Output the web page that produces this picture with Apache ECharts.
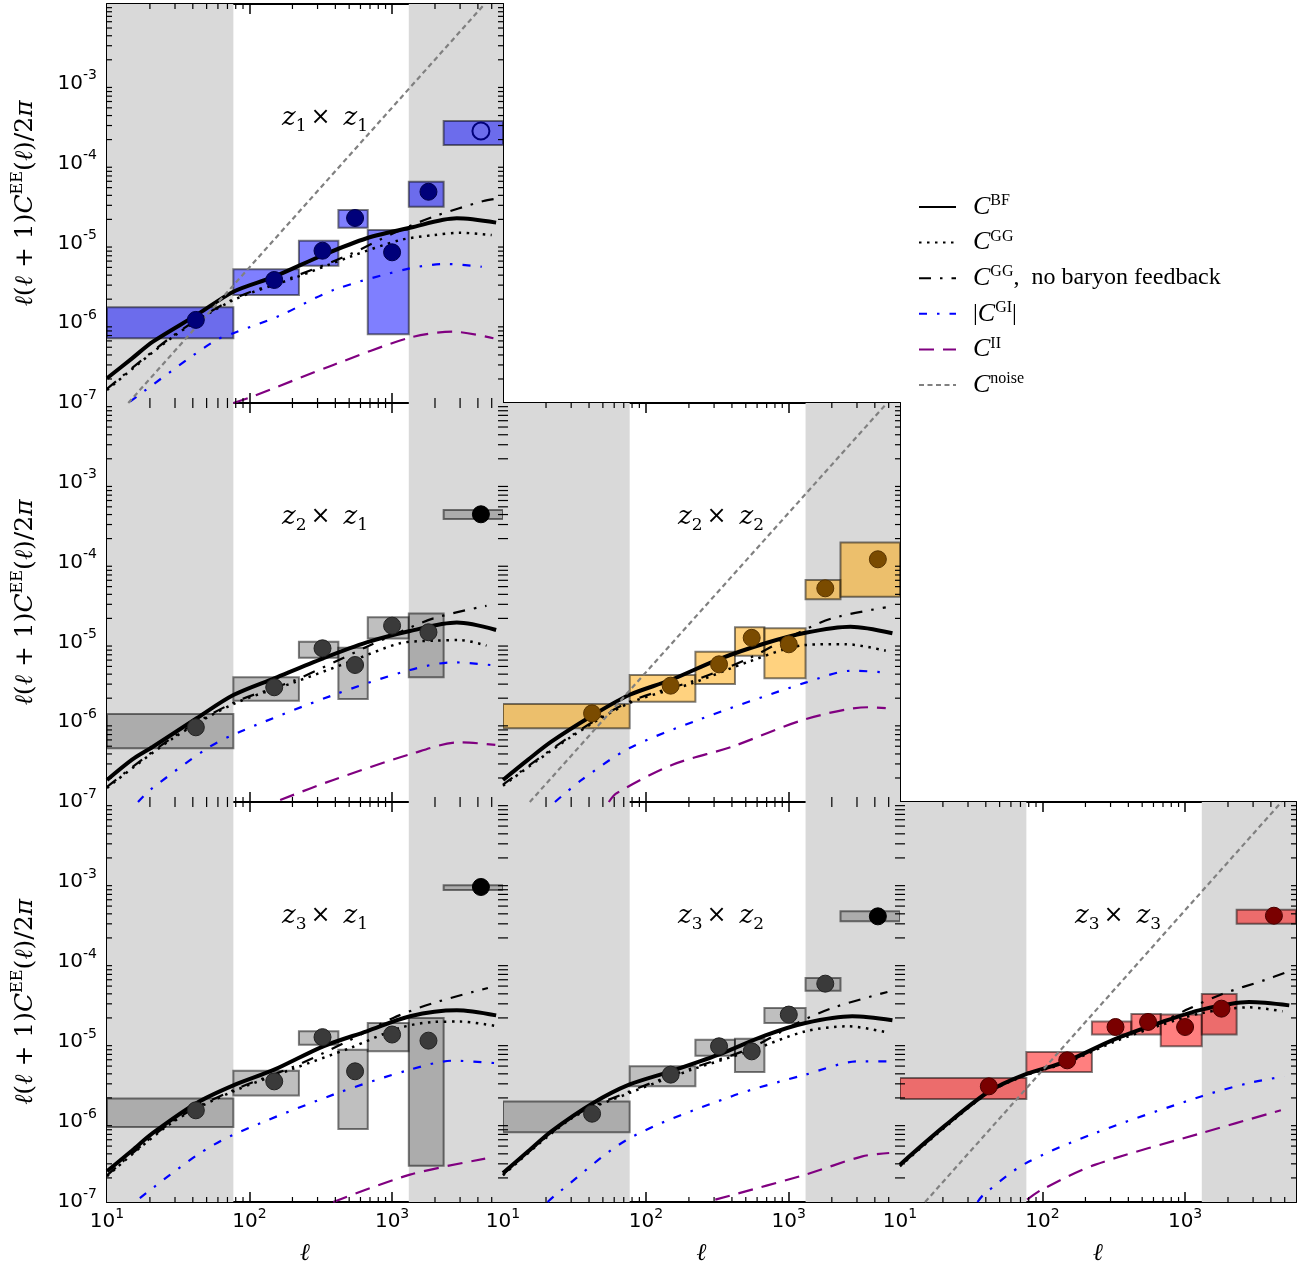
<!DOCTYPE html>
<html><head><meta charset="utf-8">
<script src="https://cdn.jsdelivr.net/npm/echarts@6/dist/echarts.min.js"></script>
<style>html,body{margin:0;padding:0;background:#fff}#c{width:1310px;height:1272px}</style>
</head><body><div id="c"></div>
<script>
// ---------------- data ----------------
const ELL_EDGES = [10, 77, 222, 420, 675, 1310, 2300, 6000];
const ELL_MID = [42, 149, 325, 550, 1000, 1800, 4200];
const MASK_BANDS = [[10, 77], [1310, 6000]];
const X_TICKS = [10, 100, 1000];
const Y_TICKS = [1e-7, 1e-6, 1e-5, 1e-4, 1e-3];
const X_MINOR = [20,30,40,50,60,70,80,90, 200,300,400,500,600,700,800,900, 2000,3000,4000,5000];
const Y_MINOR = [2e-7,3e-7,4e-7,5e-7,6e-7,7e-7,8e-7,9e-7, 2e-6,3e-6,4e-6,5e-6,6e-6,7e-6,8e-6,9e-6,
                 2e-5,3e-5,4e-5,5e-5,6e-5,7e-5,8e-5,9e-5, 2e-4,3e-4,4e-4,5e-4,6e-4,7e-4,8e-4,9e-4,
                 2e-3,3e-3,4e-3,5e-3,6e-3,7e-3,8e-3,9e-3];

// z1 x z1
const Z11_VAL = [1.10e-6, 3.48e-6, 8.1e-6, 2.08e-5, 7.73e-6, 4.44e-5, 2.56e-4];
const Z11_LO  = [6.47e-7, 2.26e-6, 5.26e-6, 1.57e-5, 7.26e-7, 2.88e-5, 1.71e-4];
const Z11_HI  = [1.58e-6, 4.74e-6, 1.08e-5, 2.62e-5, 1.47e-5, 5.93e-5, 3.42e-4];
const Z11_BF = [[10,2.04e-7],[15,3.63e-7],[21,5.87e-7],[42.6,1.27e-6],[77,2.48e-6],[149,3.83e-6],[329,7.16e-6],[664,1.16e-5],[1336,1.57e-5],[2845,2.06e-5],[5370,1.82e-5]];
const Z11_GG = [[10,1.45e-7],[29.2,6.8e-7],[77,1.95e-6],[203,3.65e-6],[507,6.8e-6],[1137,1.1e-5],[1950,1.27e-5],[3000,1.36e-5],[5000,1.27e-5]];
const Z11_NB = [[10,1.5e-7],[29.2,7.0e-7],[77,2.0e-6],[203,3.8e-6],[507,7.3e-6],[1020,1.34e-5],[1950,2.16e-5],[4380,3.4e-5],[5200,3.6e-5]];
const Z11_GI = [[14.5,1.04e-7],[36.2,3.46e-7],[58.9,6.2e-7],[77,7.5e-7],[164,1.25e-6],[387,2.6e-6],[1336,4.87e-6],[2420,5.52e-6],[4260,5.1e-6]];
const Z11_II = [[77,1.0e-7],[104,1.2e-7],[387,3.0e-7],[1336,6.6e-7],[2690,7.83e-7],[5140,6.47e-7]];
const Z11_NOISE = [[14.1,1e-7],[4460,1e-2]];

// z2 x z1
const Z21_VAL = [8.63e-7, 2.74e-6, 8.43e-6, 5.21e-6, 1.62e-5, 1.34e-5, 4.03e-4];
const Z21_LO  = [4.71e-7, 1.86e-6, 6.43e-6, 1.95e-6, 1.12e-5, 3.65e-6, 3.52e-4];
const Z21_HI  = [1.27e-6, 3.65e-6, 1.02e-5, 8.59e-6, 2.06e-5, 2.31e-5, 4.56e-4];
const Z21_BF = [[10,1.89e-7],[15,3.4e-7],[21,4.93e-7],[42.6,1.12e-6],[77,2.19e-6],[149,3.55e-6],[329,6.32e-6],[664,1.0e-5],[1336,1.39e-5],[2845,1.77e-5],[5370,1.43e-5]];
const Z21_GG = [[10,1.5e-7],[29,6.28e-7],[77,1.69e-6],[203,3.13e-6],[507,5.73e-6],[1137,9.75e-6],[1950,1.05e-5],[3000,1.07e-5],[4600,9.1e-6]];
const Z21_NB = [[10,1.55e-7],[29,6.5e-7],[77,1.75e-6],[203,3.3e-6],[664,8.8e-6],[1020,1.24e-5],[1950,2.0e-5],[4600,2.88e-5]];
const Z21_GI = [[16.5,1.0e-7],[20,1.41e-7],[51.4,4.8e-7],[85.8,7.6e-7],[387,2.19e-6],[1336,4.51e-6],[2690,5.63e-6],[4900,5.21e-6]];
const Z21_II = [[164,1.06e-7],[387,1.89e-7],[1336,3.96e-7],[3000,5.6e-7],[5300,5.2e-7]];

// z2 x z2
const Z22_VAL = [1.29e-6, 2.87e-6, 5.31e-6, 1.14e-5, 9.47e-6, 4.76e-5, 1.1e-4];
const Z22_LO  = [8.38e-7, 1.81e-6, 3.01e-6, 6.82e-6, 3.55e-6, 3.47e-5, 3.74e-5];
const Z22_HI  = [1.69e-6, 3.9e-6, 7.65e-6, 1.55e-5, 1.50e-5, 6.05e-5, 1.78e-4];
const Z22_BF = [[10,1.89e-7],[15,3.4e-7],[21.8,5.7e-7],[42.8,1.23e-6],[76.3,2.19e-6],[149,3.38e-6],[323,6.14e-6],[686,9.75e-6],[1309,1.32e-5],[2700,1.57e-5],[5310,1.3e-5]];
const Z22_GG = [[10,1.6e-7],[30.1,6.58e-7],[76.3,1.73e-6],[210,3.07e-6],[524,5.73e-6],[1309,9.28e-6],[2500,9.5e-6],[4770,7.87e-6]];
const Z22_NB = [[10,1.65e-7],[30.1,6.8e-7],[76.3,1.8e-6],[210,3.25e-6],[524,6.3e-6],[1100,1.25e-5],[2010,2.0e-5],[4770,2.75e-5]];
const Z22_GI = [[23.1,1.0e-7],[35.5,1.89e-7],[76.3,4.71e-7],[233,1.07e-6],[1309,3.13e-6],[2780,4.42e-6],[5040,4.17e-6]];
const Z22_II = [[55,1.0e-7],[62.4,1.29e-7],[152,2.91e-7],[400,4.93e-7],[1309,1.09e-6],[3640,1.54e-6],[4770,1.5e-6]];
const Z22_NOISE = [[15.4,1e-7],[4870,1e-2]];

// z3 x z1
const Z31_VAL = [1.4e-6, 3.22e-6, 1.15e-5, 4.3e-6, 1.24e-5, 1.04e-5, 8.66e-4];
const Z31_LO  = [8.66e-7, 2.15e-6, 9.26e-6, 8.18e-7, 7.64e-6, 2.84e-7, 7.94e-4];
const Z31_HI  = [1.96e-6, 4.38e-6, 1.36e-5, 8.02e-6, 1.73e-5, 2.0e-5, 9.08e-4];
const Z31_BF = [[10,2.42e-7],[15,4.4e-7],[21,7.29e-7],[42.6,1.73e-6],[77,2.87e-6],[149,4.51e-6],[329,8.83e-6],[664,1.36e-5],[1336,2.1e-5],[2845,2.49e-5],[5370,2.15e-5]];
const Z31_GG = [[10,2.1e-7],[29,1.0e-6],[77,2.42e-6],[203,4.64e-6],[507,8.41e-6],[1137,1.5e-5],[1950,1.78e-5],[3000,1.8e-5],[5200,1.6e-5]];
const Z31_NB = [[10,2.15e-7],[29,1.03e-6],[77,2.5e-6],[203,4.9e-6],[455,9.6e-6],[1020,2.0e-5],[1950,3.07e-5],[4700,4.73e-5]];
const Z31_GI = [[17,1.12e-7],[42.6,3.83e-7],[77,6.94e-7],[387,2.2e-6],[1336,4.51e-6],[2690,5.84e-6],[5200,5.46e-6]];
const Z31_II = [[387,1.0e-7],[1336,2.2e-7],[4500,3.48e-7]];

// z3 x z2
const Z32_VAL = [1.27e-6, 3.91e-6, 8.83e-6, 7.64e-6, 2.2e-5, 5.36e-5, 3.72e-4];
const Z32_LO  = [7.43e-7, 2.79e-6, 6.75e-6, 4.22e-6, 1.73e-5, 4.38e-5, 3.22e-4];
const Z32_HI  = [1.81e-6, 4.97e-6, 1.07e-5, 1.1e-5, 2.66e-5, 6.31e-5, 4.3e-4];
const Z32_BF = [[10,2.3e-7],[15,4.3e-7],[21.8,7.65e-7],[42.8,1.73e-6],[76.3,2.93e-6],[149,4.3e-6],[323,6.95e-6],[686,1.21e-5],[1309,1.73e-5],[2780,2.1e-5],[5310,1.87e-5]];
const Z32_GG = [[10,2.15e-7],[30,1.1e-6],[76.3,2.3e-6],[210,4.51e-6],[524,7.64e-6],[1309,1.36e-5],[2600,1.57e-5],[5040,1.3e-5]];
const Z32_NB = [[10,2.2e-7],[30,1.13e-6],[76.3,2.4e-6],[210,4.7e-6],[524,8.2e-6],[1150,1.73e-5],[2010,2.66e-5],[4900,4.22e-5]];
const Z32_GI = [[20.5,1.0e-7],[24.3,1.3e-7],[76,6.19e-7],[400,2.1e-6],[1309,3.91e-6],[3100,5.73e-6],[5040,5.73e-6]];
const Z32_II = [[306,1.07e-7],[1309,2.2e-7],[3270,3.72e-7],[5040,4.1e-7]];

// z3 x z3
const Z33_VAL = [2.79e-6, 5.9e-6, 1.54e-5, 1.78e-5, 1.54e-5, 2.61e-5, 3.79e-4];
const Z33_LO  = [1.94e-6, 4.22e-6, 1.24e-5, 1.24e-5, 8.83e-6, 1.24e-5, 3.01e-4];
const Z33_HI  = [3.55e-6, 7.5e-6, 1.81e-5, 2.24e-5, 2.2e-5, 3.98e-5, 4.51e-4];
const Z33_BF = [[10,2.93e-7],[20.7,9.0e-7],[42.3,2.42e-6],[74.8,3.91e-6],[147,5.73e-6],[316,1.07e-5],[692,1.78e-5],[1310,2.54e-5],[2810,3.16e-5],[5380,2.87e-5]];
const Z33_GG = [[10,2.8e-7],[20.7,8.6e-7],[42.3,2.35e-6],[74.8,3.8e-6],[147,5.5e-6],[316,1.0e-5],[692,1.65e-5],[1310,2.3e-5],[2810,2.71e-5],[4830,2.42e-5]];
const Z33_NB = [[10,2.85e-7],[20.7,8.8e-7],[42.3,2.4e-6],[74.8,3.9e-6],[147,5.7e-6],[316,1.05e-5],[692,1.8e-5],[1060,2.6e-5],[1828,3.98e-5],[3690,6.01e-5],[4970,7.29e-5]];
const Z33_GI = [[35,1.0e-7],[38.5,1.23e-7],[74.8,2.99e-7],[235,7.29e-7],[1310,2.1e-6],[2810,3.07e-6],[4970,3.72e-6]];
const Z33_II = [[77.9,1.07e-7],[99,1.43e-7],[235,2.93e-7],[1310,7.29e-7],[4700,1.4e-6]];
const Z33_NOISE = [[15.0,1e-7],[4750,1e-2]];

// ---------------- layout / styles ----------------
const PANELS = [
  {id:'11', zi:'1', zj:'1', left:107, top:4,   width:396, height:399, row:0, col:0},
  {id:'21', zi:'2', zj:'1', left:107, top:403, width:396, height:399, row:1, col:0},
  {id:'22', zi:'2', zj:'2', left:503, top:403, width:397, height:399, row:1, col:1},
  {id:'31', zi:'3', zj:'1', left:107, top:802, width:396, height:400, row:2, col:0},
  {id:'32', zi:'3', zj:'2', left:503, top:802, width:397, height:400, row:2, col:1},
  {id:'33', zi:'3', zj:'3', left:900, top:802, width:396, height:400, row:2, col:2}
];
const PDATA = {
  '11': {val:Z11_VAL, lo:Z11_LO, hi:Z11_HI, bf:Z11_BF, gg:Z11_GG, nb:Z11_NB, gi:Z11_GI, ii:Z11_II, noise:Z11_NOISE},
  '21': {val:Z21_VAL, lo:Z21_LO, hi:Z21_HI, bf:Z21_BF, gg:Z21_GG, nb:Z21_NB, gi:Z21_GI, ii:Z21_II},
  '22': {val:Z22_VAL, lo:Z22_LO, hi:Z22_HI, bf:Z22_BF, gg:Z22_GG, nb:Z22_NB, gi:Z22_GI, ii:Z22_II, noise:Z22_NOISE},
  '31': {val:Z31_VAL, lo:Z31_LO, hi:Z31_HI, bf:Z31_BF, gg:Z31_GG, nb:Z31_NB, gi:Z31_GI, ii:Z31_II},
  '32': {val:Z32_VAL, lo:Z32_LO, hi:Z32_HI, bf:Z32_BF, gg:Z32_GG, nb:Z32_NB, gi:Z32_GI, ii:Z32_II},
  '33': {val:Z33_VAL, lo:Z33_LO, hi:Z33_HI, bf:Z33_BF, gg:Z33_GG, nb:Z33_NB, gi:Z33_GI, ii:Z33_II, noise:Z33_NOISE}
};
const PSTYLE = {
  '11': {box:'rgba(0,0,255,0.5)', pt:'#00007a', ptb:'#00004a', cross:false},
  '21': {box:'rgba(128,128,128,0.5)', pt:'#3a3a3a', ptb:'#222222', cross:true},
  '22': {box:'rgba(255,165,0,0.5)', pt:'#7a4b00', ptb:'#5a3500', cross:false},
  '31': {box:'rgba(128,128,128,0.5)', pt:'#3a3a3a', ptb:'#222222', cross:true},
  '32': {box:'rgba(128,128,128,0.5)', pt:'#3a3a3a', ptb:'#222222', cross:true},
  '33': {box:'rgba(255,0,0,0.5)', pt:'#7a0000', ptb:'#4a0000', cross:false}
};
const LINESTYLE = {
  bf:    {color:'#000', width:4, type:'solid'},
  gg:    {color:'#000', width:2.5, type:[2.5, 5.5]},
  nb:    {color:'#000', width:2.2, type:[12, 9, 2.5, 9]},
  gi:    {color:'#0000ff', width:2.2, type:[8, 10, 2.5, 10]},
  ii:    {color:'#800080', width:2.2, type:[15, 9]},
  noise: {color:'#808080', width:2.2, type:[5, 3.5]}
};
const LNAME = {bf:'BF', gg:'GG', nb:'NB', gi:'GI', ii:'II', noise:'noise'};

// ---------------- helpers ----------------
const tickRich = {
  b: {fontFamily:'DejaVu Sans', fontSize:20, lineHeight:30, color:'#000'},
  s: {fontFamily:'DejaVu Sans', fontSize:14, lineHeight:12, verticalAlign:'top', color:'#000'}
};
function isIn(v, list){ return list.some(t => Math.abs(Math.log10(v) - Math.log10(t)) < 1e-6); }
function fmtPow(v){ const e = Math.round(Math.log10(v)); return '{b|10}{s|' + (e < 0 ? '-' : '') + Math.abs(e) + '}'; }
const serif = 'DejaVu Serif';

const grids = [], xAxes = [], yAxes = [], series = [], titles = [];
const tickCommon = {
  axisLine:{show:true, onZero:false, lineStyle:{color:'#000', width:2}},
  axisTick:{show:true, inside:true, length:10, lineStyle:{color:'#000', width:1.5}},
  minorTick:{show:false},
  splitLine:{show:false}, minorSplitLine:{show:false}
};

PANELS.forEach((p, i) => {
  grids.push({left:p.left, top:p.top, width:p.width, height:p.height, containLabel:false, outerBoundsMode:'none'});
  const showX = p.row === 2, showY = p.col === 0;
  xAxes.push(Object.assign({type:'log', logBase:10, gridIndex:i, position:'bottom', min:10, max:6000,
    axisLabel:{show:showX, interval:0, margin:5, hideOverlap:false, showMinLabel:true, showMaxLabel:true,
      formatter: v => isIn(v, X_TICKS) ? fmtPow(v) : '', rich:tickRich},
    name: showX ? '{l|ℓ}' : '', nameLocation:'middle', nameGap:40,
    nameTextStyle:{rich:{l:{fontFamily:serif, fontStyle:'italic', fontSize:24, color:'#000'}}}
  }, tickCommon));
  xAxes.push(Object.assign({type:'log', logBase:10, gridIndex:i, position:'top', min:10, max:6000,
    axisLabel:{show:false}}, tickCommon));
  yAxes.push(Object.assign({type:'log', logBase:10, gridIndex:i, position:'left', min:1e-7, max:1e-2,
    axisLabel:{show:showY, interval:0, margin:10, hideOverlap:false, showMinLabel:true,
      formatter: v => isIn(v, Y_TICKS) ? fmtPow(v) : '', rich:tickRich},
    name: showY ? '{i|ℓ}{r|(}{i|ℓ}{r| + 1)}{i|C}{sup|EE}{r|(}{i|ℓ}{r|)/2}{i|π}' : '',
    nameLocation:'middle', nameRotate:90, nameGap:67,
    nameTextStyle:{rich:{
      i:{fontFamily:serif, fontStyle:'italic', fontSize:25, lineHeight:30, color:'#000'},
      r:{fontFamily:serif, fontSize:25, lineHeight:30, color:'#000'},
      sup:{fontFamily:serif, fontSize:16, lineHeight:14, verticalAlign:'top', color:'#000'}
    }}
  }, tickCommon));
  yAxes.push(Object.assign({type:'log', logBase:10, gridIndex:i, position:'right', min:1e-7, max:1e-2,
    axisLabel:{show:false}}, tickCommon));

  const xi = 2 * i, yi = 2 * i;
  const d = PDATA[p.id], st = PSTYLE[p.id];

  // masked (grey) ell ranges
  series.push({type:'custom', xAxisIndex:xi, yAxisIndex:yi, z:1, silent:true, clip:true,
    data: MASK_BANDS, encode:{x:[0,1]},
    renderItem(params, api){
      const cs = params.coordSys;
      const a = api.coord([api.value(0), 1e-4]), b = api.coord([api.value(1), 1e-4]);
      return {type:'rect', shape:{x:a[0], y:cs.y, width:b[0]-a[0], height:cs.height}, style:{fill:'#d9d9d9'}};
    }});

  // error boxes
  const boxData = d.val.map((v, k) => [ELL_EDGES[k], ELL_EDGES[k+1], d.lo[k], d.hi[k]]);
  series.push({type:'custom', xAxisIndex:xi, yAxisIndex:yi, z:2, silent:true, clip:true,
    data: boxData, encode:{x:[0,1], y:[2,3]},
    renderItem(params, api){
      const a = api.coord([api.value(0), api.value(3)]), b = api.coord([api.value(1), api.value(2)]);
      return {type:'rect', shape:{x:a[0], y:a[1], width:b[0]-a[0], height:b[1]-a[1]},
        style:{fill:st.box, stroke:'rgba(0,0,0,0.5)', lineWidth:2}};
    }});

  // model curves
  ['bf','gg','nb','gi','ii','noise'].forEach(key => {
    if (!d[key]) return;
    const ls = LINESTYLE[key];
    series.push({type:'line', name:LNAME[key], xAxisIndex:xi, yAxisIndex:yi, z:3,
      data:d[key], symbol:'none', showSymbol:false, smooth: key === 'noise' ? false : 0.3,
      clip:true, silent:true, lineStyle:{color:ls.color, width:ls.width, type:ls.type, cap:'butt'},
      itemStyle:{color:ls.color}});
  });

  // measured points
  const ptData = d.val.map((v, k) => {
    const item = {value:[ELL_MID[k], v]};
    if (p.id === '11' && k === 6) item.itemStyle = {color:'rgba(0,0,0,0)', borderColor:'#00007a', borderWidth:2};
    else if (st.cross && k === 6) item.itemStyle = {color:'#000', borderColor:'#000'};
    return item;
  });
  series.push({type:'scatter', xAxisIndex:xi, yAxisIndex:yi, z:4, silent:true, symbol:'circle', symbolSize:17,
    data:ptData, itemStyle:{color:st.pt, borderColor:st.ptb, borderWidth:1, opacity:1}});

  // minor log ticks (inward, on all four sides)
  series.push({type:'custom', xAxisIndex:xi, yAxisIndex:yi, z:6, silent:true, clip:false,
    data: X_MINOR.map(v => [v]), encode:{x:0},
    renderItem(params, api){
      const cs = params.coordSys, px = api.coord([api.value(0), 1e-4])[0];
      const sty = {stroke:'#000', lineWidth:1.2};
      return {type:'group', children:[
        {type:'line', shape:{x1:px, y1:cs.y + cs.height, x2:px, y2:cs.y + cs.height - 5}, style:sty},
        {type:'line', shape:{x1:px, y1:cs.y, x2:px, y2:cs.y + 5}, style:sty}]};
    }});
  series.push({type:'custom', xAxisIndex:xi, yAxisIndex:yi, z:6, silent:true, clip:false,
    data: Y_MINOR.map(v => [v]), encode:{y:0},
    renderItem(params, api){
      const cs = params.coordSys, py = api.coord([100, api.value(0)])[1];
      const sty = {stroke:'#000', lineWidth:1.2};
      return {type:'group', children:[
        {type:'line', shape:{x1:cs.x, y1:py, x2:cs.x + 5, y2:py}, style:sty},
        {type:'line', shape:{x1:cs.x + cs.width, y1:py, x2:cs.x + cs.width - 5, y2:py}, style:sty}]};
    }});

  // panel label
  titles.push({left:p.left + 170, top:p.top + 92,
    text:'{z|z}{s|' + p.zi + '}{g| }{m|×}{g2| }{z|z}{s|' + p.zj + '}',
    textStyle:{fontWeight:'normal', rich:{
      z:{fontFamily:serif, fontStyle:'italic', fontWeight:'normal', fontSize:26, lineHeight:34, color:'#000'},
      s:{fontFamily:serif, fontWeight:'normal', fontSize:17, lineHeight:18, verticalAlign:'bottom', color:'#000'},
      m:{fontFamily:serif, fontWeight:'normal', fontSize:24, lineHeight:34, color:'#000'},
      g:{fontSize:10, width:4}, g2:{fontSize:10, width:13}
    }}});
});

const LEGEND_TEXT = {
  BF:'{g| }{c|C}{sup|BF}',
  GG:'{g| }{c|C}{sup|GG}',
  NB:'{g| }{c|C}{sup|GG}{r|,  no baryon feedback}',
  GI:'{g| }{r||}{c|C}{sup|GI}{r||}',
  II:'{g| }{c|C}{sup|II}',
  noise:'{g| }{c|C}{sup|noise}'
};

const option = {
  animation:false,
  backgroundColor:'#fff',
  textStyle:{fontFamily:'DejaVu Sans'},
  grid:grids, xAxis:xAxes, yAxis:yAxes, series:series, title:titles,
  legend:{
    data:['BF','GG','NB','GI','II','noise'], orient:'vertical', left:913, top:188,
    itemWidth:37, itemHeight:14, itemGap:8.6, selectedMode:false,
    itemStyle:{opacity:0, borderWidth:0},
    formatter: n => LEGEND_TEXT[n],
    textStyle:{color:'#000', rich:{
      g:{fontSize:10, width:12},
      c:{fontFamily:'Liberation Serif', fontStyle:'italic', fontSize:26, lineHeight:28, color:'#000'},
      sup:{fontFamily:'Liberation Serif', fontSize:16, lineHeight:16, verticalAlign:'top', color:'#000'},
      r:{fontFamily:'Liberation Serif', fontSize:24, lineHeight:28, color:'#000'}
    }}
  }
};
const chart = echarts.init(document.getElementById('c'), null, {renderer:'canvas', width:1310, height:1272});
chart.setOption(option);
</script></body></html>
